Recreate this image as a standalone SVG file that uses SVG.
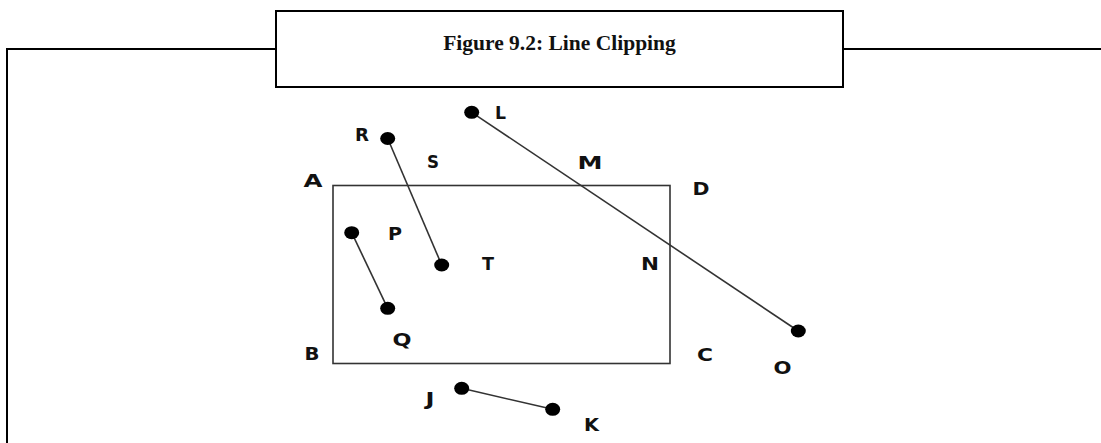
<svg xmlns="http://www.w3.org/2000/svg" width="1101" height="443" viewBox="0 0 1101 443">
  <style>
    .frame { fill: none; stroke: #000; stroke-width: 2; }
    .title { font-family: "Liberation Serif", "Times New Roman", serif; font-weight: bold; font-size: 21.5px; fill: #111; text-anchor: middle; }
    .win { fill: none; stroke: #333; stroke-width: 1.6; }
    .seg { stroke: #333; stroke-width: 1.6; fill: none; }
    .dot { fill: #000; }
    .lbl { font-family: "DejaVu Sans", Verdana, sans-serif; font-weight: bold; font-size: 18px; fill: #111; }
  </style>
  <rect width="1101" height="443" fill="#fff"/>
  <g id="frame">
    <path class="frame" d="M7,443 V49 H276 M843,49 H1101"/>
    <rect class="frame" x="276" y="11" width="567" height="76"/>
    <text class="title" x="559.5" y="50">Figure 9.2: Line Clipping</text>
  </g>
  <g id="window">
    <rect class="win" x="333" y="185.5" width="337" height="178"/>
  </g>
  <g id="connectors">
    <line class="seg" x1="471.7" y1="112.3" x2="798.3" y2="331"/>
    <line class="seg" x1="387.7" y1="138.5" x2="441.7" y2="265"/>
    <line class="seg" x1="351.7" y1="232.7" x2="387.7" y2="308.3"/>
    <line class="seg" x1="461.7" y1="388.3" x2="552.7" y2="409.3"/>
  </g>
  <g id="node-L"><ellipse class="dot" cx="471.7" cy="112.3" rx="7.5" ry="6.5"/><text class="lbl" x="495" y="118.5" textLength="11" lengthAdjust="spacingAndGlyphs">L</text></g>
  <g id="node-R"><ellipse class="dot" cx="387.7" cy="138.5" rx="7.5" ry="6.5"/><text class="lbl" x="355" y="141" textLength="14" lengthAdjust="spacingAndGlyphs">R</text></g>
  <g id="node-T"><ellipse class="dot" cx="441.7" cy="265" rx="7.5" ry="6.5"/><text class="lbl" x="482" y="269.5" textLength="12" lengthAdjust="spacingAndGlyphs">T</text></g>
  <g id="node-P"><ellipse class="dot" cx="351.7" cy="232.7" rx="7.5" ry="6.5"/><text class="lbl" x="388" y="239.5" textLength="14" lengthAdjust="spacingAndGlyphs">P</text></g>
  <g id="node-Q"><ellipse class="dot" cx="387.7" cy="308.3" rx="7.5" ry="6.5"/><text class="lbl" x="392.5" y="345.5" textLength="19" lengthAdjust="spacingAndGlyphs">Q</text></g>
  <g id="node-O"><ellipse class="dot" cx="798.3" cy="331" rx="7.5" ry="6.5"/><text class="lbl" x="773.5" y="373.5" textLength="18" lengthAdjust="spacingAndGlyphs">O</text></g>
  <g id="node-J"><ellipse class="dot" cx="461.7" cy="388.3" rx="7.5" ry="6.5"/><text class="lbl" x="425.5" y="404.5" textLength="9" lengthAdjust="spacingAndGlyphs">J</text></g>
  <g id="node-K"><ellipse class="dot" cx="552.7" cy="409.3" rx="7.5" ry="6.5"/><text class="lbl" x="584" y="430.5" textLength="15" lengthAdjust="spacingAndGlyphs">K</text></g>
  <g id="labels">
    <text class="lbl" x="427" y="168" textLength="12" lengthAdjust="spacingAndGlyphs">S</text>
    <text class="lbl" x="577.5" y="168.5" textLength="25" lengthAdjust="spacingAndGlyphs">M</text>
    <text class="lbl" x="303.5" y="186.5" textLength="19" lengthAdjust="spacingAndGlyphs">A</text>
    <text class="lbl" x="692.5" y="194.5" textLength="17" lengthAdjust="spacingAndGlyphs">D</text>
    <text class="lbl" x="641" y="269.5" textLength="18" lengthAdjust="spacingAndGlyphs">N</text>
    <text class="lbl" x="304.5" y="359.5" textLength="15" lengthAdjust="spacingAndGlyphs">B</text>
    <text class="lbl" x="697" y="360.5" textLength="16" lengthAdjust="spacingAndGlyphs">C</text>
  </g>
</svg>
